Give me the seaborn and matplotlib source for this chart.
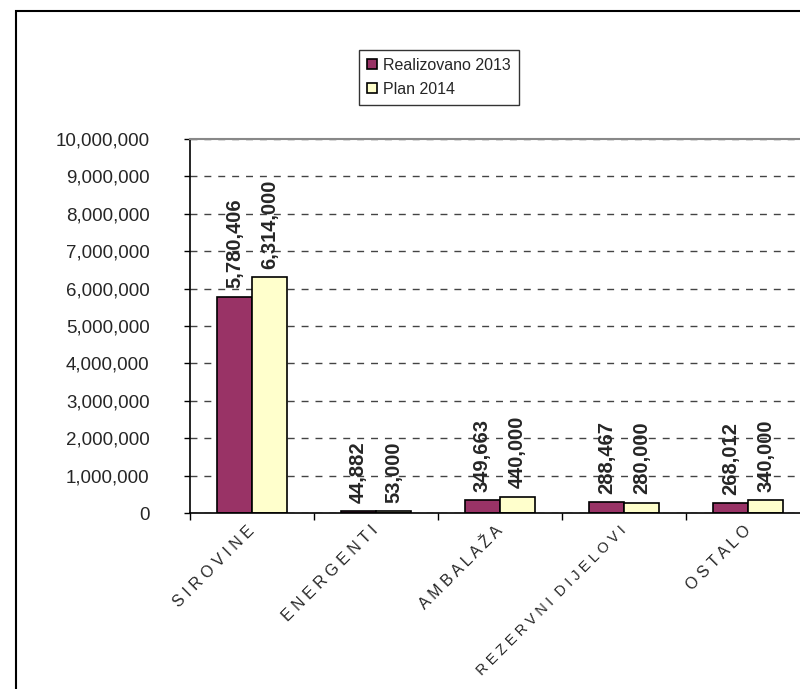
import numpy as np
import pandas as pd
import matplotlib
matplotlib.use("Agg")
import matplotlib.pyplot as plt
import seaborn as sns
from matplotlib.patches import Rectangle
from matplotlib.ticker import FuncFormatter

# ── Data ─────────────────────────────────────────────
categories = ['SIROVINE', 'ENERGENTI', 'AMBALAŽA', 'REZERVNI DIJELOVI', 'OSTALO']
realizovano_2013 = [5780406, 44882, 349663, 288467, 268012]
plan_2014 = [6314000, 53000, 440000, 280000, 340000]
series_names = ['Realizovano 2013', 'Plan 2014']
colors = ['#993366', '#FFFFCC']

df = pd.DataFrame({
    'kategorija': categories * 2,
    'serija': [series_names[0]] * len(categories) + [series_names[1]] * len(categories),
    'vrijednost': realizovano_2013 + plan_2014,
})

# ── Style ────────────────────────────────────────────
sns.set_style("white")
plt.rcParams['font.family'] = ['Liberation Sans', 'DejaVu Sans']

fig = plt.figure(figsize=(8, 6.89), dpi=100)
ax = fig.add_axes([190 / 800, 1 - 513 / 689, 620 / 800, (513 - 139) / 689])

# outer chart border (runs off the right and bottom edge)
fig.patches.append(Rectangle((16 / 800, -0.05), 1.2, 1 - 11 / 689 + 0.05,
                             transform=fig.transFigure, fill=False,
                             edgecolor='black', linewidth=1.5, zorder=0))

sns.barplot(
    data=df, x='kategorija', y='vrijednost', hue='serija',
    palette=colors, edgecolor='black', linewidth=1.2,
    width=0.565, saturation=1, ax=ax, legend=True
)

# value labels
for cont in ax.containers:
    ax.bar_label(cont, labels=[f'{v:,.0f}' for v in cont.datavalues],
                 rotation=90, padding=6, fontsize=14.5, fontweight='bold')

# axes
ax.set_ylim(0, 10_000_000)
ax.set_yticks(np.arange(0, 10_000_001, 1_000_000))
ax.yaxis.set_major_formatter(FuncFormatter(lambda v, p: f'{v:,.0f}'))
ax.set_xlim(-0.5, 4.5)
ax.yaxis.grid(True, linestyle=(0, (5, 5)), color='#444444', linewidth=1)
ax.set_axisbelow(True)
ax.set_xlabel('')
ax.set_ylabel('')

for side in ['left', 'bottom']:
    ax.spines[side].set_color('black')
    ax.spines[side].set_linewidth(1.2)
ax.spines['top'].set_color('#888888')
ax.spines['top'].set_linewidth(1.5)
ax.spines['right'].set_visible(False)

ax.tick_params(axis='y', which='major', direction='out', length=4, width=1,
               color='black', labelsize=13.5, pad=25, left=True)
ax.set_xticks(np.arange(-0.5, 5, 1), minor=True)
ax.tick_params(axis='x', which='minor', direction='out', length=5, width=1,
               color='black', bottom=True)
ax.tick_params(axis='x', which='major', length=0, pad=11)

# letter-spaced category labels
spaced = [' '.join(w.replace(' ', '')) if ' ' not in w
          else ' '.join(w.split(' ')[0]) + '  ' + ' '.join(w.split(' ')[1])
          for w in categories]
ax.set_xticks(range(len(categories)))
ax.set_xticklabels(spaced, rotation=45, ha='right', va='center',
                   rotation_mode='anchor', fontsize=11.5)
for lbl in ax.get_xticklabels():
    if len(lbl.get_text()) > 20:
        lbl.set_fontsize(10.5)

# legend
handles, labels = ax.get_legend_handles_labels()
ax.legend_.remove()
fig.legend(handles, labels, loc='upper left',
           bbox_to_anchor=(359 / 800, 1 - 50 / 689), borderaxespad=0,
           frameon=True, fancybox=False, edgecolor='black',
           fontsize=11.5, handlelength=0.6, handleheight=0.6,
           handletextpad=0.4, borderpad=0.5, labelspacing=0.55)
fig.legends[0].get_frame().set_linewidth(1)

fig.savefig('out.png', dpi=100)
